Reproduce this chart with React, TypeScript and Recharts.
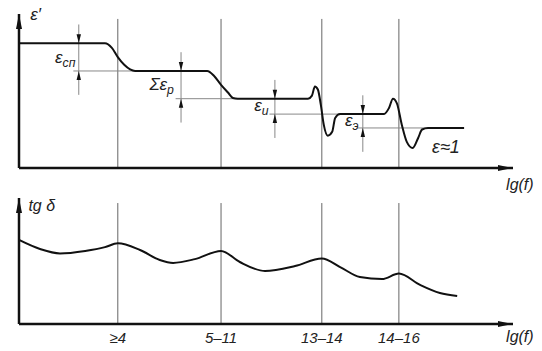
import { LineChart, Line, XAxis, YAxis, ReferenceLine, ReferenceDot } from 'recharts';

// lg(f) in arbitrary units 0..100, epsilon' and tg delta in units 0..10
const regionX = [20, 40.9, 61.3, 76.9];
const regionLabels = ['≥4', '5–11', '13–14', '14–16'];

const epsX = [
  0, 17.4, 18.8, 20.0, 21.3, 22.5, 23.5, 38.1, 39.5, 40.9, 42.3, 43.3, 44.3, 58.5, 59.3, 59.9, 60.5,
  61.1, 61.7, 62.5, 63.4, 64.0, 65.0, 73.9, 74.9, 75.7, 76.5, 77.5, 78.5, 79.7, 80.8, 81.6, 82.8, 90.1,
];
const epsY = [
  8.1, 8.1, 7.8, 7.2, 6.7, 6.4, 6.3, 6.3, 5.97, 5.4, 4.9, 4.55, 4.5, 4.5, 4.7, 5.3, 5.1, 4.1, 2.8,
  2.1, 2.35, 3.25, 3.5, 3.5, 3.9, 4.5, 4.2, 2.8, 1.7, 1.3, 1.95, 2.5, 2.6, 2.6,
];

const tgX = [
  0, 4.25, 8.3, 13.4, 17.4, 20, 24.5, 28.5, 31.2, 35.6, 40.9, 44.7, 49.8, 55.9, 61.3, 65.0, 69.0,
  73.5, 76.9, 81.2, 85.2, 88.7,
];
const tgY = [
  6.67, 5.95, 5.6, 5.8, 6.1, 6.4, 5.87, 5.08, 4.85, 5.15, 5.8, 4.92, 4.2, 4.6, 5.2, 4.52, 3.73, 3.57,
  4.0, 3.1, 2.46, 2.22,
];

// partial permittivities: where measured, upper and lower level, label
const dimX = [12.1, 32.8, 51.8, 69.6];
const dimHi = [8.1, 6.3, 4.5, 3.5];
const dimLo = [6.3, 4.5, 3.5, 2.6];
const dimEnd = [23.5, 44.3, 65.0, 82.8];
const dimName = ['ε', 'Σε', 'ε', 'ε'];
const dimSub = ['сп', 'р', 'и', 'э'];

const epsData = epsX.map((x, i) => ({ x, y: epsY[i] }));
const tgData = tgX.map((x, i) => ({ x, y: tgY[i] }));

const FONT = '"Liberation Sans", Arial, sans-serif';
const INK = '#111';

// label anchors (data units)
const dimLabelX = [7.3, 26.4, 47.6, 66.0];
const dimLabelY = [6.8, 5.05, 3.7, 2.75];

const Txt = ({ cx, cy, main, sub, size = 17 }: any) => (
  <text x={cx} y={cy} fontFamily={FONT} fontStyle="italic" fontSize={size} fill="#222">
    {main}
    {sub ? (
      <tspan fontSize={size * 0.72} dy={4}>
        {sub}
      </tspan>
    ) : null}
  </text>
);

const arrowShape = (dir: 'up' | 'down' | 'right', len: number, w: number) => (p: any) => {
  const { cx, cy } = p;
  let d = '';
  if (dir === 'down') d = `M${cx},${cy} L${cx - w},${cy - len} L${cx + w},${cy - len} Z`;
  if (dir === 'up') d = `M${cx},${cy} L${cx - w},${cy + len} L${cx + w},${cy + len} Z`;
  if (dir === 'right') d = `M${cx},${cy} L${cx - len},${cy - w} L${cx - len},${cy + w} Z`;
  return <path d={d} fill={INK} />;
};

const textShape = (main: string, sub?: string, size?: number) => (p: any) => (
  <Txt cx={p.cx} cy={p.cy} main={main} sub={sub} size={size} />
);

export default function App() {
  return (
    <div style={{ position: 'absolute', left: 0, top: 0, width: 542, height: 351, background: '#fff' }}>
      {/* epsilon' */}
      <div style={{ position: 'absolute', left: 0, top: 0 }}>
        <LineChart width={542} height={198} data={epsData} margin={{ top: 14, right: 29, bottom: 18, left: 0 }}>
          <XAxis
            dataKey="x"
            type="number"
            domain={[0, 100]}
            height={12}
            tick={false}
            tickLine={false}
            axisLine={{ stroke: INK, strokeWidth: 2.5 }}
          />
          <YAxis
            type="number"
            domain={[0, 10]}
            width={19}
            tick={false}
            tickLine={false}
            axisLine={{ stroke: INK, strokeWidth: 2.5 }}
          />

          {regionX.map((x) => (
            <ReferenceLine
              key={x}
              segment={[{ x, y: 0 }, { x, y: 9.68 }]}
              stroke="#666"
              strokeWidth={1}
              ifOverflow="visible"
            />
          ))}

          {dimX.map((x, i) => (
            <ReferenceLine
              key={'v' + i}
              segment={[{ x, y: dimHi[i] + 1.22 }, { x, y: dimLo[i] - 1.55 }]}
              stroke="#888"
              strokeWidth={1}
              ifOverflow="visible"
            />
          ))}
          {dimX.map((x, i) => (
            <ReferenceLine
              key={'h' + i}
              segment={[{ x: x - 1.1, y: dimLo[i] }, { x: dimEnd[i], y: dimLo[i] }]}
              stroke="#888"
              strokeWidth={1}
              ifOverflow="visible"
            />
          ))}

          <Line
            type="monotone"
            dataKey="y"
            stroke={INK}
            strokeWidth={2}
            dot={false}
            isAnimationActive={false}
          />

          {dimX.map((x, i) => (
            <ReferenceDot key={'ad' + i} x={x} y={dimHi[i]} ifOverflow="visible" shape={arrowShape('down', 9, 2.2)} />
          ))}
          {dimX.map((x, i) => (
            <ReferenceDot key={'au' + i} x={x} y={dimLo[i]} ifOverflow="visible" shape={arrowShape('up', 9, 2.2)} />
          ))}
          {dimX.map((x, i) => (
            <ReferenceDot
              key={'t' + i}
              x={dimLabelX[i]}
              y={dimLabelY[i]}
              ifOverflow="visible"
              shape={textShape(dimName[i], dimSub[i])}
            />
          ))}

          <ReferenceDot x={0} y={10} ifOverflow="visible" shape={arrowShape('up', 15, 3)} />
          <ReferenceDot x={100} y={0} ifOverflow="visible" shape={arrowShape('right', 15, 3)} />
          <ReferenceDot x={2.3} y={9.6} ifOverflow="visible" shape={textShape('ε′')} />
          <ReferenceDot x={83.6} y={1.0} ifOverflow="visible" shape={textShape('ε≈1', undefined, 18)} />
          <ReferenceDot x={98.6} y={-1.45} ifOverflow="visible" shape={textShape('lg(f)', undefined, 16)} />
        </LineChart>
      </div>

      {/* tg delta */}
      <div style={{ position: 'absolute', left: 0, top: 180 }}>
        <LineChart width={542} height={171} data={tgData} margin={{ top: 18, right: 29, bottom: 0, left: 0 }}>
          <XAxis
            dataKey="x"
            type="number"
            domain={[0, 100]}
            height={27}
            ticks={regionX}
            tickFormatter={(v: number) => regionLabels[regionX.indexOf(v)] ?? ''}
            tickLine={false}
            tickSize={6}
            tick={{ fill: '#222', fontSize: 15, fontStyle: 'italic', fontFamily: FONT }}
            axisLine={{ stroke: INK, strokeWidth: 2.5 }}
          />
          <YAxis
            type="number"
            domain={[0, 10]}
            width={19}
            tick={false}
            tickLine={false}
            axisLine={{ stroke: INK, strokeWidth: 2.5 }}
          />

          {regionX.map((x) => (
            <ReferenceLine
              key={x}
              segment={[{ x, y: 0 }, { x, y: 9.6 }]}
              stroke="#666"
              strokeWidth={1}
              ifOverflow="visible"
            />
          ))}

          <Line
            type="monotone"
            dataKey="y"
            stroke={INK}
            strokeWidth={2}
            dot={false}
            isAnimationActive={false}
          />

          <ReferenceDot x={0} y={10} ifOverflow="visible" shape={arrowShape('up', 15, 3)} />
          <ReferenceDot x={100} y={0} ifOverflow="visible" shape={arrowShape('right', 15, 3)} />
          <ReferenceDot x={1.9} y={9.0} ifOverflow="visible" shape={textShape('tg δ', undefined, 16)} />
          <ReferenceDot x={98.6} y={-1.45} ifOverflow="visible" shape={textShape('lg(f)', undefined, 16)} />
        </LineChart>
      </div>
    </div>
  );
}
